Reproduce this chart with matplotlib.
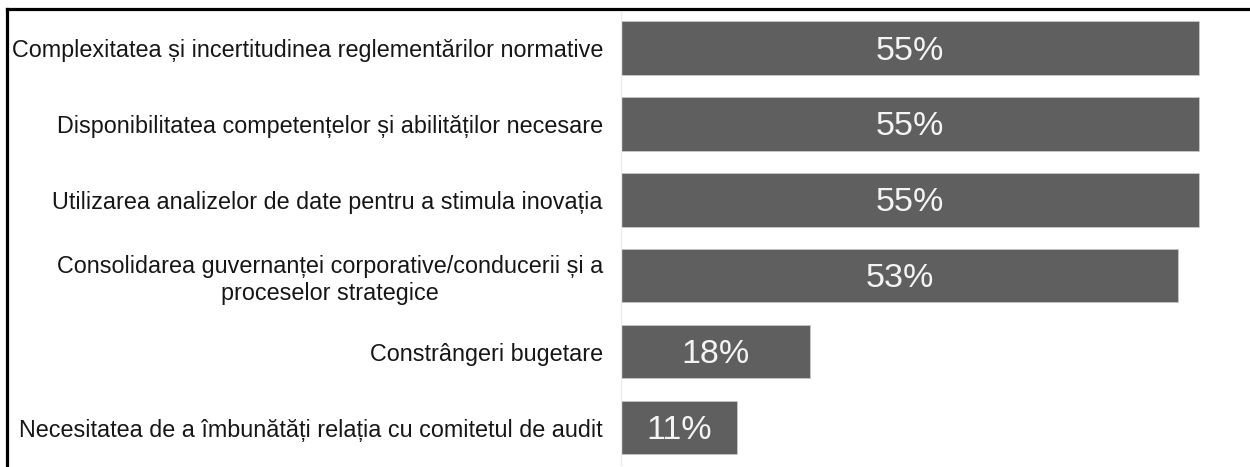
import matplotlib
matplotlib.use('Agg')
import matplotlib.pyplot as plt
from matplotlib.lines import Line2D

plt.rcParams['font.family'] = ['Liberation Sans', 'DejaVu Sans']

categories = ['Complexitatea și incertitudinea reglementărilor normative',
              'Disponibilitatea competențelor și abilităților necesare',
              'Utilizarea analizelor de date pentru a stimula inovația',
              'Consolidarea guvernanței corporative/conducerii și a\nproceselor strategice',
              'Constrângeri bugetare',
              'Necesitatea de a îmbunătăți relația cu comitetul de audit']
values = [55, 55, 55, 53, 18, 11]
value_labels = ['55%', '55%', '55%', '53%', '18%', '11%']

fig = plt.figure(figsize=(12.5, 4.67), dpi=100)
ax = fig.add_axes([621/1250, 1-465/467, 1-621/1250, (465-12)/467])

ypos = range(len(values))
ax.barh(ypos, values, height=0.705, color='#5f5f5f', edgecolor='#c8c8c8', linewidth=0.6)
for i, v in enumerate(values):
    # nudge a little down so the digits sit in the middle of the bar
    ax.text(v/2, i + 0.04, value_labels[i], ha='center', va='center', color='#f4f4f4', fontsize=24.5)

ax.set_xlim(0, 629/10.51)
ax.set_ylim(5.494, -0.474)
ax.set_yticks(list(ypos))
ax.set_yticklabels(categories, fontsize=16.85, color='#161616', multialignment='center')
ax.tick_params(axis='y', length=0, pad=13)
ax.set_xticks([])
for s in ['top', 'right', 'bottom']:
    ax.spines[s].set_visible(False)
ax.spines['left'].set_color('#ebebeb')
ax.spines['left'].set_linewidth(1.0)

# black frame on top and left edge of the picture
fig.add_artist(Line2D([7/1250, 1], [1-9/467, 1-9/467], color='black', linewidth=2.3))
fig.add_artist(Line2D([7/1250, 7/1250], [0, 1-9/467], color='black', linewidth=2.3))

fig.savefig('out.png', dpi=100)
